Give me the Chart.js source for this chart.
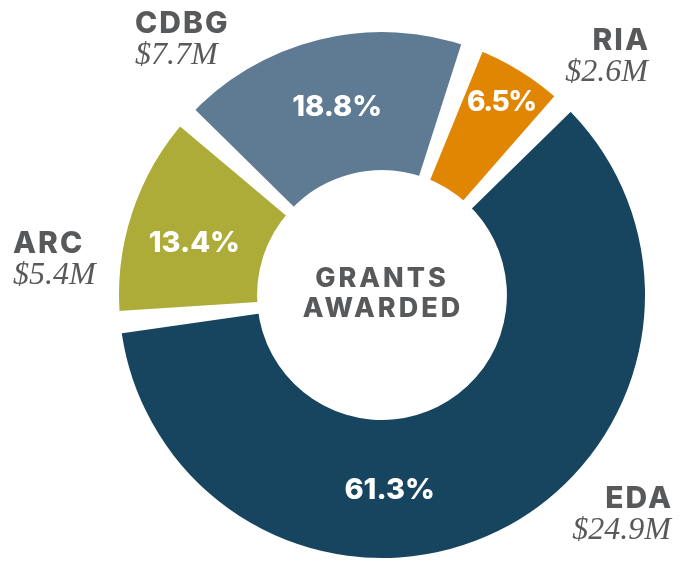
<!DOCTYPE html>
<html>
<head>
<meta charset="utf-8">
<script src="https://cdn.jsdelivr.net/npm/chart.js@4.4.0/dist/chart.umd.min.js"></script>
<style>
  html, body { margin: 0; padding: 0; background: #fff; }
</style>
</head>
<body>
<canvas id="canvas" width="691" height="561"></canvas>
<script>
// grant programs, clockwise from the top
var programs = ['RIA', 'EDA', 'ARC', 'CDBG'];
var amounts = ['$2.6M', '$24.9M', '$5.4M', '$7.7M'];
var shares = [6.5, 61.3, 13.4, 18.8];
var sliceColors = ['#e08603', '#17445f', '#adac38', '#5f7a93'];

var GRAY = '#58595b';
var SANS = 'Inter, Lato, "Noto Sans", sans-serif';
var SERIF = '"Liberation Serif", "DejaVu Serif", serif';
var GAP_DEG = 4.5; // white wedge between slices

// percent labels inside the ring (a = angle nudge in degrees, r = radius nudge, ls = letter spacing)
var pctNudge = [
    { a: 0, r: 33, ls: -1.5, size: 28 },
    { a: 24, r: 0, ls: 0, size: 29 },
    { a: -2.5, r: 1, ls: 0, size: 29 },
    { a: 0.5, r: 0, ls: 0, size: 29 }
];
// program name + amount, outside the ring
var outerSpots = [
    { x: 648, y: 50, align: 'right' },
    { x: 671, y: 508, align: 'right' },
    { x: 13, y: 253, align: 'left' },
    { x: 135, y: 33, align: 'left' }
];

var labelPlugin = {
    id: 'sliceLabels',
    afterDatasetsDraw: function (chart) {
        var ctx = chart.ctx;
        var arcs = chart.getDatasetMeta(0).data;
        var half = GAP_DEG * Math.PI / 360;
        ctx.save();

        // gaps between the slices
        ctx.fillStyle = '#fff';
        ctx.strokeStyle = '#fff';
        ctx.lineWidth = 2;
        arcs.forEach(function (arc) {
            var p = arc.getProps(['x', 'y', 'startAngle', 'outerRadius'], true);
            ctx.beginPath();
            ctx.moveTo(p.x, p.y);
            ctx.arc(p.x, p.y, p.outerRadius + 4, p.startAngle - half, p.startAngle + half);
            ctx.closePath();
            ctx.fill();
            ctx.stroke();
        });

        arcs.forEach(function (arc, i) {
            var p = arc.getProps(['x', 'y', 'startAngle', 'endAngle', 'innerRadius', 'outerRadius'], true);
            var n = pctNudge[i];
            var mid = (p.startAngle + p.endAngle) / 2 + n.a * Math.PI / 180;
            var rad = (p.innerRadius + p.outerRadius) / 2 + n.r;
            ctx.fillStyle = '#fff';
            ctx.font = '800 ' + n.size + 'px ' + SANS;
            ctx.letterSpacing = n.ls + 'px';
            ctx.textAlign = 'center';
            ctx.textBaseline = 'middle';
            ctx.fillText(shares[i].toFixed(1) + '%', p.x + Math.cos(mid) * rad, p.y + Math.sin(mid) * rad + 1);

            var s = outerSpots[i];
            ctx.fillStyle = GRAY;
            ctx.textAlign = s.align;
            ctx.textBaseline = 'alphabetic';
            ctx.font = '800 30px ' + SANS;
            ctx.letterSpacing = '2px';
            ctx.fillText(programs[i], s.x + (s.align === 'right' ? 2 : 0), s.y);
            ctx.font = 'italic 32px ' + SERIF;
            ctx.letterSpacing = '0px';
            ctx.fillText(amounts[i], s.x, s.y + 31);
        });

        // centre title
        var c = arcs[0];
        ctx.fillStyle = GRAY;
        ctx.textAlign = 'center';
        ctx.textBaseline = 'alphabetic';
        ctx.font = '800 27px ' + SANS;
        ctx.letterSpacing = '3px';
        ctx.fillText('GRANTS', c.x, c.y - 8);
        ctx.fillText('AWARDED', c.x + 1, c.y + 22);
        ctx.restore();
    }
};

window.onload = function () {
    var ctx = document.getElementById('canvas').getContext('2d');
    window.myDoughnut = new Chart(ctx, {
        type: 'doughnut',
        data: {
            labels: programs,
            datasets: [{
                data: shares,
                backgroundColor: sliceColors,
                borderWidth: 0
            }]
        },
        options: {
            responsive: false,
            animation: false,
            rotation: 20,
            radius: 263,
            cutout: '47.5%',
            layout: {
                padding: { left: 73, top: 29, right: 0, bottom: 0 }
            },
            plugins: {
                legend: { display: false },
                tooltip: { enabled: false }
            }
        },
        plugins: [labelPlugin]
    });
};
</script>
</body>
</html>
